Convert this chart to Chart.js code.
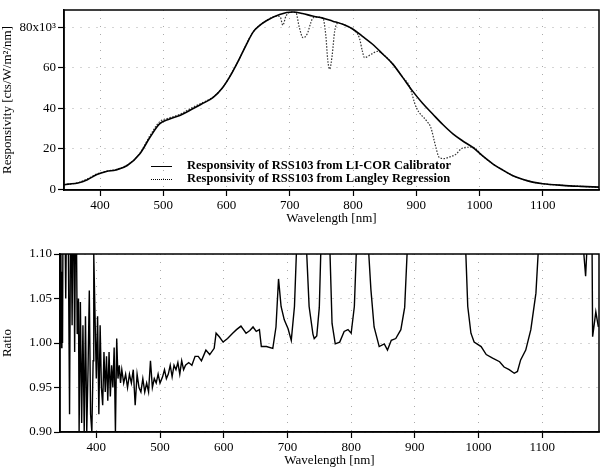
<!DOCTYPE html>
<html>
<head>
<meta charset="utf-8">
<script src="https://cdn.jsdelivr.net/npm/chart.js@4"></script>
<style>
  body { margin: 0; background: #fff; width: 600px; height: 468px; position: relative; overflow: hidden; font-family: "Liberation Serif", serif; }
  canvas { position: absolute; left: 0; }
  #top { top: 0; }
  #bottom { top: 230px; }
  .leg { position: absolute; left: 151px; font: bold 12.5px "Liberation Serif", serif; color: #000; white-space: nowrap; }
  .leg span { display: inline-block; width: 21px; margin-right: 15px; vertical-align: middle; }
</style>
</head>
<body>
<canvas id="top" width="600" height="230"></canvas>
<canvas id="bottom" width="600" height="238"></canvas>
<div class="leg" style="top:158px"><span style="border-top:1.6px solid #000"></span>Responsivity of RSS103 from LI-COR Calibrator</div>
<div class="leg" style="top:171px"><span style="border-top:1.4px dotted #000"></span>Responsivity of RSS103 from Langley Regression</div>
<script>
// --- DATA ---
const licorWl = [343, 350, 365, 380, 395, 410, 425, 443, 463, 479, 494, 510, 526, 545, 560, 579, 594, 605, 616, 631, 642, 653, 663, 684, 705, 720, 736, 752, 768, 785, 800, 815, 831, 847, 863, 878, 894, 910, 926, 942, 958, 973, 989, 1005, 1021, 1037, 1052, 1068, 1084, 1100, 1131, 1160, 1189];
const licorResp = [2.3, 2.6, 3.2, 4.8, 7.3, 8.8, 9.6, 11.8, 17.6, 25.7, 32.3, 34.7, 36.5, 39.5, 42, 45.4, 50.3, 55.5, 61.8, 71.2, 77.6, 81, 83.2, 86.3, 87.5, 86.8, 85.5, 84.5, 83, 81.3, 79, 75.5, 71.6, 66.8, 61.8, 55.5, 48.6, 42.5, 37.2, 32, 27.4, 24, 20.8, 16.5, 12.6, 9.5, 6.9, 5, 3.6, 2.8, 2, 1.5, 1.1];

const langleyWl = [343, 365, 380, 395, 410, 425, 443, 463, 479, 494, 510, 526, 545, 560, 579, 594, 616, 642, 663, 680, 685, 689, 694, 705, 710, 715, 721, 728, 733, 737, 745, 752, 757, 760, 763, 767, 771, 776, 785, 800, 805, 810, 815, 818, 829, 839, 847, 863, 878, 889, 900, 916, 923, 931, 936, 944, 952, 963, 971, 984, 989, 1005, 1021, 1037, 1052, 1068, 1084, 1100, 1131, 1160, 1189];
const langleyResp = [2.3, 3.3, 5.2, 7.6, 9.0, 9.8, 12, 17.8, 26.5, 33.3, 35.3, 37, 40.2, 42.5, 45.6, 50.3, 61.8, 77.6, 83.2, 85.5, 85, 81, 85.5, 87.5, 87, 80, 74.8, 77, 82, 84.7, 85, 84.7, 76, 64, 59.3, 66, 78, 82, 81.3, 79, 77.5, 74.8, 68, 65, 66.7, 68.1, 66.8, 61.8, 55.5, 51.1, 40.4, 33.9, 30.6, 20.8, 15.9, 15.2, 15.9, 17.4, 20, 20.8, 20.8, 16.5, 12.6, 9.5, 6.9, 5, 3.6, 2.8, 2, 1.5, 1.1];

const ratioWl = [343, 344, 345, 346, 347, 348, 350, 352, 354, 356, 358, 360, 362, 364, 366, 368, 370, 372, 373, 375, 377, 379, 381, 383, 385, 387, 389, 391, 393, 395, 396, 398, 400, 402, 404, 406, 408, 410, 412, 414, 416, 418, 420, 422, 424, 426, 428, 430, 432, 434, 436, 438, 440, 443, 446, 449, 452, 455, 458, 461, 464, 467, 470, 473, 476, 479, 482, 485, 488, 491, 494, 497, 500, 504, 507, 510, 513, 516, 519, 522, 525, 528, 531, 534, 537, 540, 545, 550, 555, 560, 565, 572, 578, 585, 588, 593, 599, 606, 614, 620, 627, 635, 641, 646, 651, 656, 659, 667, 677, 682, 686, 690, 695, 701, 706, 711, 715, 722, 729, 734, 740, 742, 746, 750, 753, 760, 766, 770, 775, 782, 789, 795, 800, 805, 809, 818, 826, 831, 836, 844, 852, 857, 863, 870, 878, 884, 889, 935, 979, 983, 988, 993, 1004, 1012, 1022, 1033, 1040, 1048, 1056, 1061, 1066, 1074, 1082, 1090, 1095, 1130, 1163, 1168, 1171, 1175, 1178, 1179, 1184, 1188];
const ratioVal = [1.00, 1.20, 0.995, 1.08, 1.00, 1.20, 1.20, 1.05, 1.20, 1.12, 0.92, 1.20, 1.02, 1.20, 0.99, 1.20, 1.01, 1.05, 0.90, 1.046, 0.91, 1.02, 0.90, 1.03, 0.90, 0.97, 1.059, 0.92, 0.90, 0.98, 1.10, 1.03, 0.96, 1.03, 0.92, 1.02, 0.95, 0.93, 0.99, 0.945, 0.985, 0.935, 0.99, 0.94, 0.975, 0.95, 0.995, 0.90, 1.005, 0.96, 0.975, 0.955, 0.97, 0.955, 0.965, 0.95, 0.965, 0.955, 0.97, 0.93, 0.965, 0.95, 0.945, 0.96, 0.945, 0.955, 0.945, 0.98, 0.95, 0.96, 0.955, 0.965, 0.955, 0.962, 0.97, 0.96, 0.965, 0.975, 0.962, 0.975, 0.97, 0.978, 0.965, 0.98, 0.97, 0.975, 0.978, 0.975, 0.985, 0.985, 0.98, 0.992, 0.987, 0.994, 1.011, 1.007, 1.001, 1.005, 1.011, 1.015, 1.019, 1.011, 1.014, 1.018, 1.013, 1.015, 0.996, 0.996, 0.994, 1.018, 1.072, 1.041, 1.026, 1.016, 1.003, 1.041, 1.12, 1.3, 1.12, 1.041, 1.01, 1.005, 1.008, 1.04, 1.12, 1.5, 1.12, 1.022, 0.999, 1.001, 1.013, 1.015, 1.011, 1.041, 1.12, 1.3, 1.12, 1.06, 1.018, 0.996, 0.999, 0.992, 1.003, 1.005, 1.015, 1.04, 1.12, 1.5, 1.12, 1.041, 1.011, 1.001, 0.996, 0.987, 0.983, 0.979, 0.973, 0.970, 0.966, 0.968, 0.981, 0.992, 1.015, 1.056, 1.12, 1.3, 1.12, 1.075, 1.12, 1.2, 1.12, 1.007, 1.035, 1.018];

const wlTicks = [400, 500, 600, 700, 800, 900, 1000, 1100];
const respTicks = [0, 20, 40, 60, 80];
const ratioTicks = [0.90, 0.95, 1.00, 1.05, 1.10];

const pts = (xs, ys) => xs.map((x, i) => ({ x: x, y: ys[i] }));

// --- SHARED STYLE ---
const serif = { family: 'Liberation Serif', size: 13 };
const frame = {
    id: 'frame',
    afterDraw(c) {
        const a = c.chartArea, ctx = c.ctx;
        ctx.save();
        ctx.strokeStyle = '#000';
        ctx.lineWidth = 1.5;
        ctx.strokeRect(a.left, a.top, a.right - a.left, a.bottom - a.top);
        ctx.restore();
    }
};

function xAxis(height, titlePad) {
    return {
        type: 'linear', min: 343, max: 1189,
        afterBuildTicks: s => { s.ticks = wlTicks.map(v => ({ value: v })); },
        afterFit: s => { s.height = height; },
        grid: { color: '#aaa', tickColor: '#000', tickLength: 6, tickWidth: 1.2 },
        border: { color: '#000', width: 1.5, dash: [1, 7] },
        ticks: { color: '#000', font: serif, padding: 2, maxRotation: 0, callback: v => String(v) },
        title: { display: true, text: 'Wavelength [nm]', color: '#000', font: serif, padding: { top: 0, bottom: titlePad } }
    };
}

function yAxis(width, min, max, ticks, fmt, title) {
    return {
        min: min, max: max,
        afterBuildTicks: s => { s.ticks = ticks.map(v => ({ value: v })); },
        afterFit: s => { s.width = width; },
        grid: { color: '#aaa', tickColor: '#000', tickLength: 6, tickWidth: 1.2 },
        border: { color: '#000', width: 1.5, dash: [1, 7] },
        ticks: { color: '#000', font: serif, padding: 2, callback: fmt },
        title: { display: true, text: title, color: '#000', font: serif, padding: { top: 0, bottom: 2 } }
    };
}

// --- TOP: RESPONSIVITY ---
new Chart(document.getElementById('top'), {
    type: 'line',
    data: {
        datasets: [
            { label: 'Responsivity of RSS103 from LI-COR Calibrator', data: pts(licorWl, licorResp),
              borderColor: '#000', borderWidth: 1.6, pointRadius: 0, cubicInterpolationMode: 'monotone' },
            { label: 'Responsivity of RSS103 from Langley Regression', data: pts(langleyWl, langleyResp),
              borderColor: '#333', borderWidth: 1.2, borderDash: [1.5, 1.5], pointRadius: 0, cubicInterpolationMode: 'monotone' }
        ]
    },
    options: {
        responsive: false, animation: false, devicePixelRatio: 1,
        layout: { padding: { top: 10, right: 1, left: 0, bottom: 0 } },
        plugins: { legend: { display: false }, tooltip: { enabled: false } },
        scales: {
            x: xAxis(40, 4),
            y: yAxis(64, -0.3, 88.5, respTicks, v => v === 80 ? '80x10³' : String(v), 'Responsivity [cts/W/m²/nm]')
        }
    },
    plugins: [frame]
});

// --- BOTTOM: RATIO ---
new Chart(document.getElementById('bottom'), {
    type: 'line',
    data: {
        datasets: [
            { label: 'Ratio', data: pts(ratioWl, ratioVal),
              borderColor: '#000', borderWidth: 1.4, pointRadius: 0, tension: 0 }
        ]
    },
    options: {
        responsive: false, animation: false, devicePixelRatio: 1,
        layout: { padding: { top: 24, right: 1, left: 0, bottom: 0 } },
        plugins: { legend: { display: false }, tooltip: { enabled: false } },
        scales: {
            x: xAxis(36, 0),
            y: yAxis(60, 0.90, 1.10, ratioTicks, v => v.toFixed(2), 'Ratio')
        }
    },
    plugins: [frame]
});
</script>
</body>
</html>
